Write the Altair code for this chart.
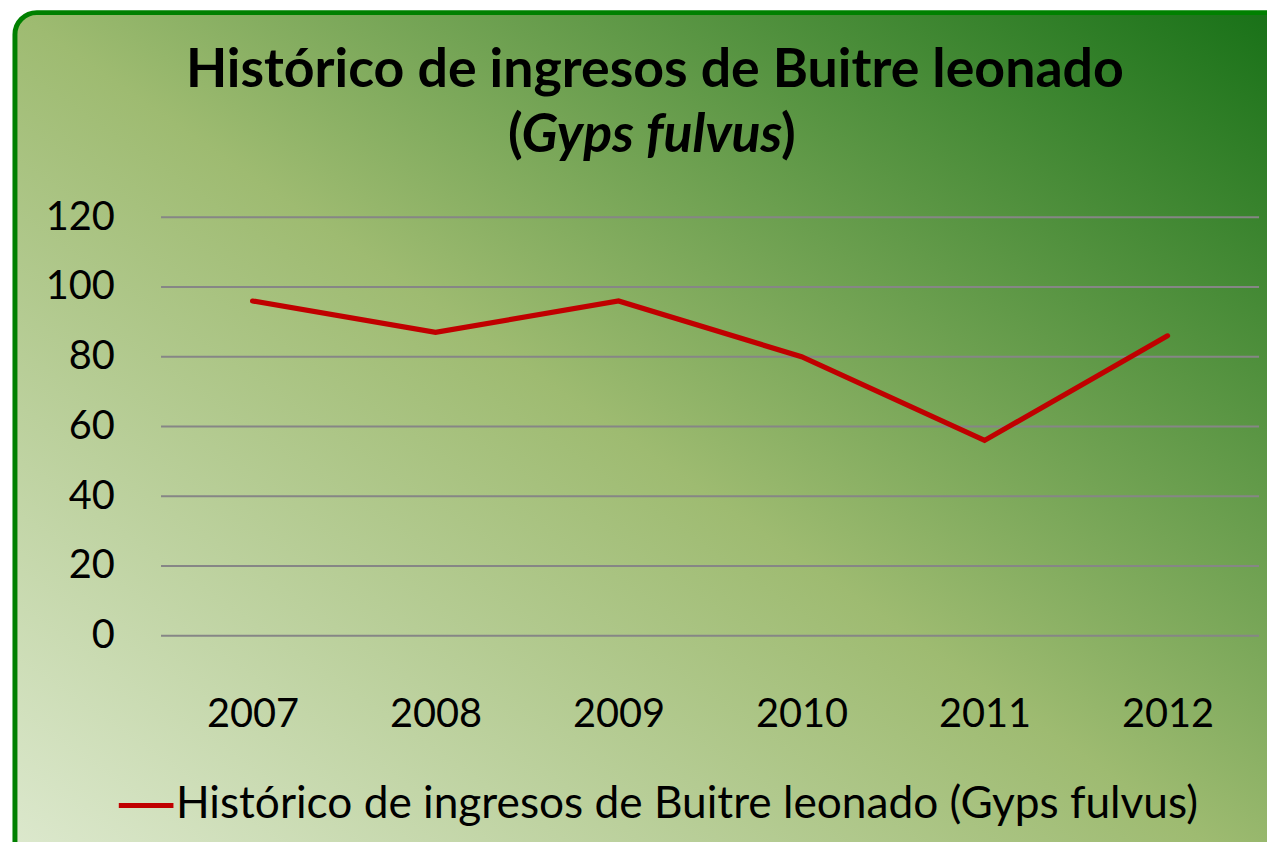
import altair as alt
import pandas as pd

# ---- data ----
years = ["2007", "2008", "2009", "2010", "2011", "2012"]
values = [96, 87, 96, 80, 56, 86]
y_ticks = [0, 20, 40, 60, 80, 100, 120]
series_name = "Histórico de ingresos de Buitre leonado (Gyps fulvus)"
title_line1 = "Histórico de ingresos de Buitre leonado"
title_open = "("
title_species = "Gyps fulvus"
title_close = ")"

df = pd.DataFrame({"year": years, "value": values, "serie": [series_name] * len(years)})
grid_df = pd.DataFrame({"tick": y_ticks})

W, H = 1105, 421
FONT = "Lato"
TITLE_SIZE = 54
one = alt.Data(values=[{}])

gradient = alt.Gradient(
    gradient="linear",
    stops=[
        alt.GradientStop(color="#e0ebd3", offset=0),
        alt.GradientStop(color="#9ebb71", offset=0.5),
        alt.GradientStop(color="#167016", offset=1),
    ],
    x1=0, y1=1, x2=1, y2=0,
)

bg = alt.Chart(one).mark_rect(
    fill=gradient, stroke="#008000", strokeWidth=5, cornerRadius=22
).encode(x=alt.value(-147), x2=alt.value(1140), y=alt.value(-206), y2=alt.value(690))

grid = alt.Chart(grid_df).mark_rule(color="#868686", strokeWidth=2).encode(
    y=alt.Y("tick:Q", scale=alt.Scale(domain=[0, 120], nice=False)),
    x=alt.value(0), x2=alt.value(W),
)

line = alt.Chart(df).mark_line(strokeWidth=5.2, strokeCap="round").encode(
    x=alt.X(
        "year:N", sort=years,
        axis=alt.Axis(
            title=None, labelAngle=0, labelFontSize=40, labelFont=FONT,
            labelColor="black", ticks=False, tickSize=0, domain=False,
            grid=False, labelPadding=91, labelBaseline="alphabetic", zindex=1,
        ),
    ),
    y=alt.Y(
        "value:Q", scale=alt.Scale(domain=[0, 120], nice=False),
        axis=alt.Axis(
            values=y_ticks, title=None, grid=False, domain=False, ticks=False,
            tickSize=0, labelPadding=47, labelFontSize=40, labelFont=FONT,
            labelColor="black", zindex=1,
        ),
    ),
    color=alt.Color(
        "serie:N", scale=alt.Scale(range=["#c00000"]),
        legend=alt.Legend(
            orient="none", legendX=-45, legendY=562, title=None,
            symbolType="stroke", symbolSize=3025, symbolStrokeWidth=5,
            labelFontSize=44.5, labelFont=FONT, labelColor="black",
            labelLimit=0, labelOffset=0, padding=0,
        ),
    ),
)

t1 = alt.Chart(one).mark_text(
    text=title_line1, font=FONT, fontSize=TITLE_SIZE, fontWeight="bold", color="black",
    align="center", baseline="alphabetic",
).encode(x=alt.value(497), y=alt.value(-131))

t2a = alt.Chart(one).mark_text(
    text=title_open, font=FONT, fontSize=TITLE_SIZE, fontWeight="bold", color="black",
    align="right", baseline="alphabetic",
).encode(x=alt.value(364), y=alt.value(-66))

t2b = alt.Chart(one).mark_text(
    text=title_species, font=FONT, fontSize=TITLE_SIZE, fontWeight="bold", fontStyle="italic",
    color="black", align="center", baseline="alphabetic",
).encode(x=alt.value(494), y=alt.value(-66))

t2c = alt.Chart(one).mark_text(
    text=title_close, font=FONT, fontSize=TITLE_SIZE, fontWeight="bold", color="black",
    align="left", baseline="alphabetic",
).encode(x=alt.value(624), y=alt.value(-66))

chart = alt.layer(bg, grid, line, t1, t2a, t2b, t2c).properties(
    width=W, height=H,
    padding={"left": 154, "top": 208, "right": 8, "bottom": 205},
    autosize="none",
).configure_view(stroke=None)

chart.save("out.html", embed_options={"renderer": "svg", "actions": False})
